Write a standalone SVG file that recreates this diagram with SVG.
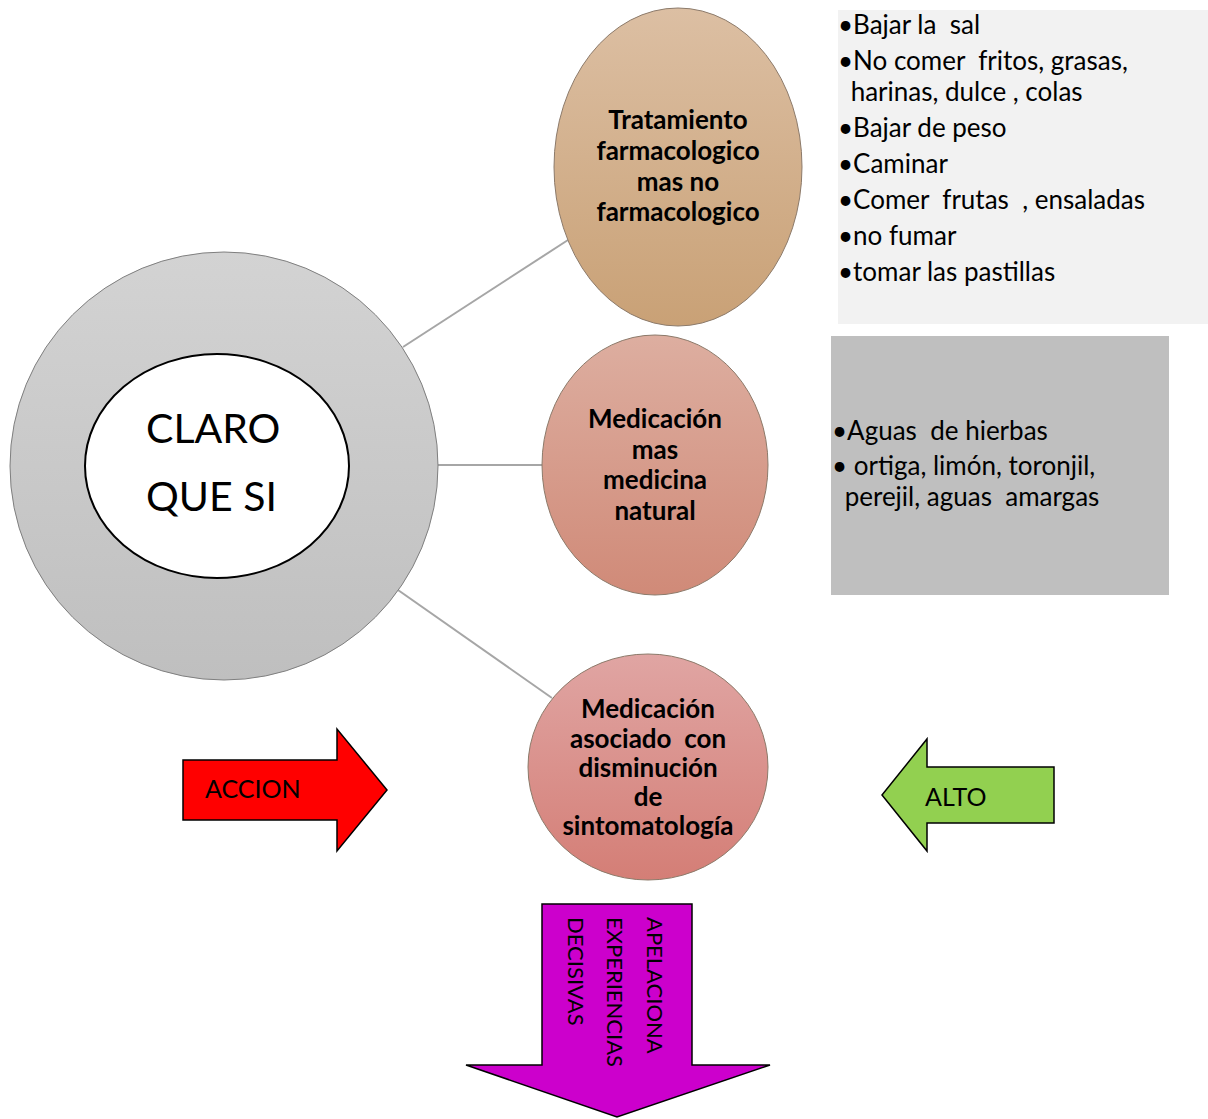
<svg xmlns="http://www.w3.org/2000/svg" width="1208" height="1119" viewBox="0 0 1208 1119">
<defs>
<linearGradient id="gGray" x1="0" y1="0" x2="0" y2="1"><stop offset="0" stop-color="#d3d3d3"/><stop offset="1" stop-color="#bfbfbf"/></linearGradient>
<linearGradient id="gTan" x1="0" y1="0" x2="0" y2="1"><stop offset="0" stop-color="#dcbfa3"/><stop offset="1" stop-color="#c9a176"/></linearGradient>
<linearGradient id="gRose" x1="0" y1="0" x2="0" y2="1"><stop offset="0" stop-color="#ddaea0"/><stop offset="1" stop-color="#d08a78"/></linearGradient>
<linearGradient id="gPink" x1="0" y1="0" x2="0" y2="1"><stop offset="0" stop-color="#e0a5a3"/><stop offset="1" stop-color="#d47e76"/></linearGradient>
</defs>
<style>
text{font-family:Lato,"Liberation Sans",sans-serif;fill:#000;white-space:pre}
.b{font-weight:bold;font-size:26px;text-anchor:middle}
.l{font-size:26px}
.big{font-size:41px}
.lab{font-size:25px}
.v{font-size:22px}
.node{stroke:#8c7a6a;stroke-width:1}
.conn line{stroke:#a6a6a6;stroke-width:2}
.arr{stroke:#000;stroke-width:1.5}
</style>
<rect width="1208" height="1119" fill="#fff"/>
<g class="conn" id="connectors">
<line x1="403" y1="347" x2="568" y2="240"/>
<line x1="438" y1="465" x2="543" y2="465"/>
<line x1="398" y1="590" x2="552" y2="698"/>
</g>
<g id="center">
<circle cx="224" cy="466" r="214" fill="url(#gGray)" stroke="#7f7f7f" stroke-width="1"/>
<ellipse cx="217" cy="466" rx="132" ry="112" fill="#fff" stroke="#000" stroke-width="2"/>
<text class="big" x="146" y="443">CLARO</text>
<text class="big" x="146" y="511">QUE SI</text>
</g>
<g id="n1">
<ellipse class="node" cx="678" cy="167" rx="124" ry="159" fill="url(#gTan)"/>
<text class="b" x="678" y="129">Tratamiento</text>
<text class="b" x="678" y="160">farmacologico</text>
<text class="b" x="678" y="191">mas no</text>
<text class="b" x="678" y="221">farmacologico</text>
</g>
<g id="n2">
<ellipse class="node" cx="655" cy="465" rx="113" ry="130" fill="url(#gRose)"/>
<text class="b" x="655" y="428">Medicación</text>
<text class="b" x="655" y="459">mas</text>
<text class="b" x="655" y="489">medicina</text>
<text class="b" x="655" y="520">natural</text>
</g>
<g id="n3">
<ellipse class="node" cx="648" cy="767" rx="120" ry="113" fill="url(#gPink)"/>
<text class="b" x="648" y="718">Medicación</text>
<text class="b" x="648" y="748">asociado  con</text>
<text class="b" x="648" y="777">disminución</text>
<text class="b" x="648" y="806">de</text>
<text class="b" x="648" y="835">sintomatología</text>
</g>
<g id="list1">
<rect x="838" y="10" width="370" height="314" fill="#f2f2f2"/>
<text class="l" x="838" y="34">•Bajar la  sal</text>
<text class="l" x="838" y="70">•No comer  fritos, grasas,</text>
<text class="l" x="844" y="101"> harinas, dulce , colas</text>
<text class="l" x="838" y="137">•Bajar de peso</text>
<text class="l" x="838" y="173">•Caminar</text>
<text class="l" x="838" y="209">•Comer  frutas  , ensaladas</text>
<text class="l" x="838" y="245">•no fumar</text>
<text class="l" x="838" y="281">•tomar las pastillas</text>
</g>
<g id="list2">
<rect x="831" y="336" width="338" height="259" fill="#bfbfbf"/>
<text class="l" x="832" y="440">•Aguas  de hierbas</text>
<text class="l" x="832" y="475">• ortiga, limón, toronjil,</text>
<text class="l" x="838" y="506"> perejil, aguas  amargas</text>
</g>
<g id="accion">
<path class="arr" d="M183,760 H337 V729 L387,790 L337,851 V820 H183 Z" fill="#ff0000"/>
<text class="lab" x="205" y="798">ACCION</text>
</g>
<g id="alto">
<path class="arr" d="M1054,767 H927 V739 L882,795 L927,851 V823 H1054 Z" fill="#92d050"/>
<text class="lab" x="925" y="806">ALTO</text>
</g>
<g id="apelaciona">
<path class="arr" d="M542,904 H692 V1065 H770 L617,1117 L466,1065 H542 Z" fill="#cc00cc"/>
<text class="v" transform="translate(647,917) rotate(90)">APELACIONA</text>
<text class="v" transform="translate(607,917) rotate(90)">EXPERIENCIAS</text>
<text class="v" transform="translate(568,917) rotate(90)">DECISIVAS</text>
</g>
</svg>
